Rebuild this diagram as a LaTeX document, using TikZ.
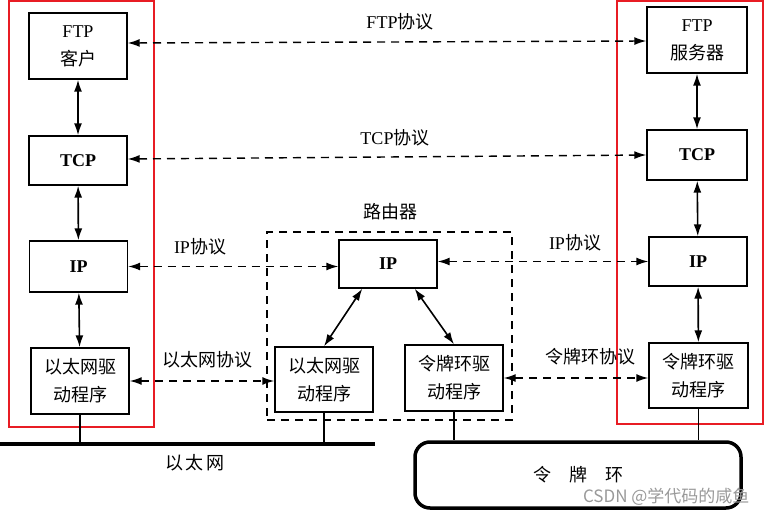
\documentclass[tikz,border=0pt]{standalone}
\usepackage{fontspec}
\setmainfont{Liberation Serif}
\newfontfamily\zhfont{Noto Sans CJK SC}
\newcommand{\zh}[1]{{\zhfont #1}}
\usetikzlibrary{arrows.meta}
\definecolor{hostred}{RGB}{232,28,36}

\begin{document}
\begin{tikzpicture}[x=1pt,y=-1pt,
  box/.style={draw, line width=1.4pt, minimum width=98pt, align=center, inner sep=0pt, font=\fontsize{18}{28}\selectfont},
  link/.style={line width=1.6pt, {Latex[length=12pt,width=8pt]}-{Latex[length=12pt,width=8pt]}},
  proto/.style={link, line width=1.4pt, dash pattern=on 8pt off 6pt},
  lbl/.style={font=\fontsize{18}{20}\selectfont},
  host/.style={draw=hostred, line width=2.2pt}]
\useasboundingbox (0,0) rectangle (768,516);

% Left host
\node[box, minimum height=66pt] (ftpc) at (78,46) {FTP\\\zh{客户}};
\node[box, minimum height=49pt] (tcpl) at (78,160.5) {\bfseries TCP};
\node[box, minimum height=51pt] (ipl) at (78.5,266.5) {\bfseries IP};
\node[box, minimum height=66pt] (ethl) at (80,381) {\zh{以太网驱}\\\zh{动程序}};
\draw[host] (9,1) rectangle (154,427);

% Right host
\node[box, minimum width=100pt, minimum height=66pt] (ftps) at (697,40) {FTP\\\zh{服务器}};
\node[box, minimum width=100pt, minimum height=50pt] (tcpr) at (697,155) {\bfseries TCP};
\node[box, minimum height=49pt] (ipr) at (698,261.5) {\bfseries IP};
\node[box, minimum width=99pt, minimum height=65pt] (trr) at (698.5,375.5) {\zh{令牌环驱}\\\zh{动程序}};
\draw[host] (617,1) rectangle (763,424);

% Router
\node[draw, line width=1.4pt, dash pattern=on 8pt off 6pt, minimum width=245pt, minimum height=188pt] (rtr) at (389.5,326) {};
\node[lbl] (rtrlbl) at (390,212) {\zh{路由器}};
\node[box, minimum height=48pt] (ipm) at (388,264) {\bfseries IP};
\node[box, minimum height=65pt] (ethm) at (324,379.5) {\zh{以太网驱}\\\zh{动程序}};
\node[box, minimum height=66pt] (trm) at (454,378) {\zh{令牌环驱}\\\zh{动程序}};

% Stacks
\draw[link] (ftpc) -- (tcpl);
\draw[link] (tcpl) -- (ipl);
\draw[link] (ipl) -- (ethl);
\draw[link] (ftps) -- (tcpr);
\draw[link] (tcpr) -- (ipr);
\draw[link] (ipr) -- (trr);
\draw[link] ([xshift=24pt]ipm.south west) -- (ethm.north);
\draw[link] ([xshift=-23pt]ipm.south east) -- (trm.north);

% Peer protocols
\draw[proto] ([yshift=3pt]ftpc.east) -- ([yshift=-1pt]ftps.west);
\node[lbl] (ftpp) at (400,22) {FTP\zh{协议}};
\draw[proto] ([yshift=1.5pt]tcpl.east) -- (tcpr.west);
\node[lbl] (tcpp) at (395,138) {TCP\zh{协议}};
\draw[proto] (ipl.east) -- (ipl.east -| ipm.west);
\node[lbl] (ipp1) at (200,247) {IP\zh{协议}};
\draw[proto] (ipm.east |- ipr.west) -- (ipr.west);
\node[lbl] (ipp2) at (575,243) {IP\zh{协议}};
\draw[proto] (ethl.east) -- (ethl.east -| ethm.west);
\node[lbl] (ethp) at (207,360) {\zh{以太网协议}};
\draw[proto] (trm.east) -- (trm.east -| trr.west);
\node[lbl] (trp) at (590,357) {\zh{令牌环协议}};

% Networks
\coordinate (eth0) at (0,444);
\coordinate (eth1) at (375,444);
\draw[line width=3.5pt] (eth0) -- (eth1);
\node[lbl] (ethlbl) at (195,463) {\zh{以\,太\,网}};
\draw[line width=1.2pt] (ethl.south) -- (ethl.south |- eth0);
\draw[line width=1.2pt] (ethm.south) -- (ethm.south |- eth0);
\node[draw, line width=3.5pt, rounded corners=15pt, minimum width=326pt, minimum height=66pt, lbl] (ring) at (578,475) {\zh{令\quad 牌\quad 环}};
\draw[line width=1.2pt] (trm.south) -- (trm.south |- ring.north);
\draw[line width=1.2pt] (trr.south) -- (trr.south |- ring.north);

% Watermark
\node[anchor=east, text=black!40, font=\zhfont\fontsize{17}{20}\selectfont] (wm) at (753,497) {CSDN @学代码的咸鱼};
\end{tikzpicture}
\end{document}
